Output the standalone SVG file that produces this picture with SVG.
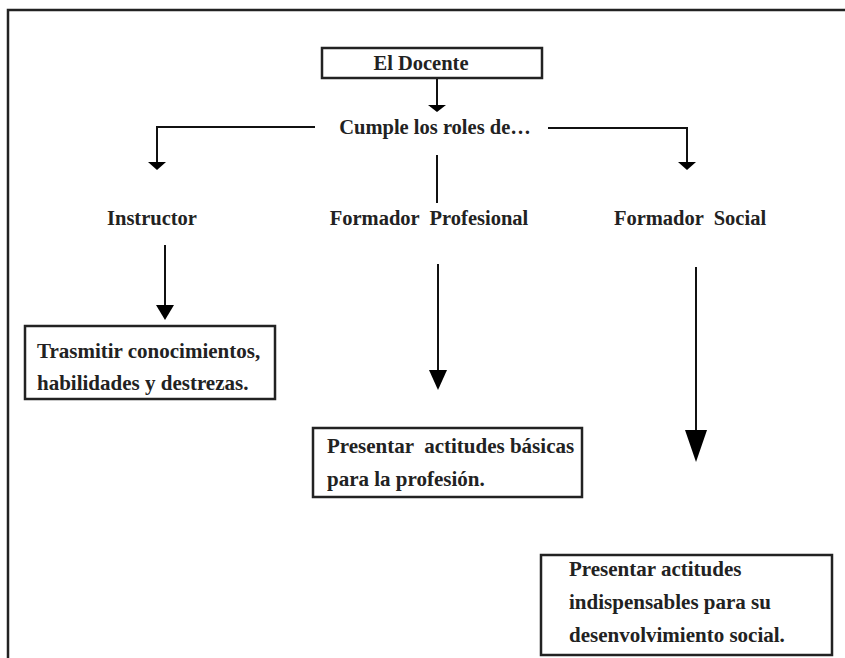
<svg xmlns="http://www.w3.org/2000/svg" width="845" height="658" viewBox="0 0 845 658">
<style>
text{font-family:"Liberation Serif","DejaVu Serif",serif;font-weight:bold;font-size:20.5px;fill:#222}
.bt{font-size:21px}
.box{fill:#fff;stroke:#222;stroke-width:2.5}
.ln{stroke:#111;stroke-width:2;fill:none}
</style>
<path d="M8,658V10H845" fill="none" stroke="#222" stroke-width="2.5"/>
<g id="connectors">
<path class="ln" d="M437,78V106"/>
<path class="ln" d="M315,127H157V164"/>
<path class="ln" d="M548,128H687V164"/>
<path class="ln" d="M437,155V203"/>
<path class="ln" d="M165,245V306"/>
<polygon points="156,305 174,305 165,320" fill="#000"/>
<path class="ln" d="M438,264V371"/>
<polygon points="429,370 447,370 438,390" fill="#000"/>
<path class="ln" d="M696,267V431"/>
<polygon points="685,430 707,430 696,462" fill="#000"/>
<polygon points="148,162 166,162 157,170" fill="#000"/>
<polygon points="678,162 696,162 687,170" fill="#000"/>
<polygon points="428,105 446,105 437,112" fill="#000"/>
</g>
<g id="docente">
<rect class="box" x="322" y="48" width="220" height="30"/>
<text x="421" y="70" text-anchor="middle">El Docente</text>
</g>
<g id="cumple">
<text x="435" y="134" text-anchor="middle">Cumple los roles de…</text>
</g>
<g id="instructor">
<text x="152" y="225" text-anchor="middle">Instructor</text>
</g>
<g id="profesional">
<text x="429" y="225" text-anchor="middle" xml:space="preserve">Formador  Profesional</text>
</g>
<g id="social">
<text x="690" y="225" text-anchor="middle" xml:space="preserve">Formador  Social</text>
</g>
<g id="box1">
<rect class="box" x="25" y="326" width="250" height="73"/>
<text class="bt" x="37" y="358">Trasmitir conocimientos,</text>
<text class="bt" x="37" y="390">habilidades y destrezas.</text>
</g>
<g id="box2">
<rect class="box" x="313" y="428" width="269" height="69"/>
<text class="bt" x="327" y="453" xml:space="preserve">Presentar  actitudes básicas</text>
<text class="bt" x="327" y="486">para la profesión.</text>
</g>
<g id="box3">
<rect class="box" x="541" y="555" width="291" height="100"/>
<text class="bt" x="569" y="576">Presentar actitudes</text>
<text class="bt" x="569" y="609">indispensables para su</text>
<text class="bt" x="569" y="642">desenvolvimiento social.</text>
</g>
</svg>
